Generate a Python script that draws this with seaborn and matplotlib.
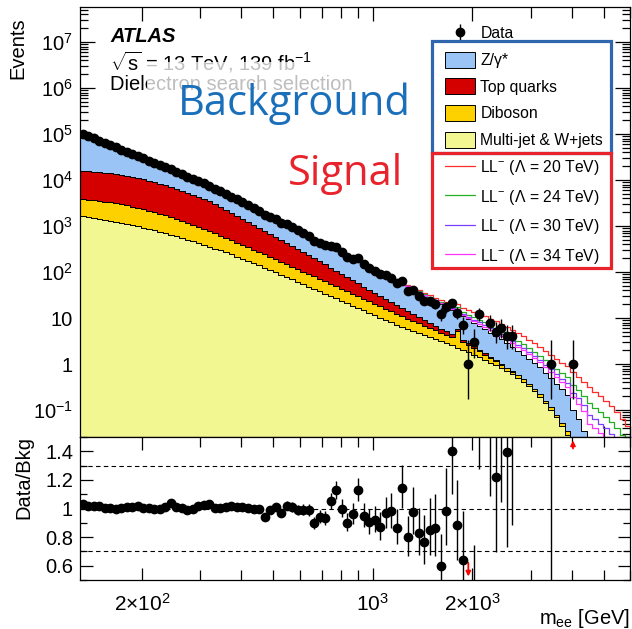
import numpy as np
import pandas as pd
import matplotlib
matplotlib.use("Agg")
import matplotlib.pyplot as plt
import seaborn as sns
from matplotlib.patches import Patch, Rectangle
from matplotlib.lines import Line2D
from matplotlib.ticker import FixedLocator, FuncFormatter, LogLocator, MultipleLocator, NullFormatter

# ---------------- data ----------------
mass_min = 130.0          # GeV, first bin edge
bins_per_decade = 60
n_bins = 100

zgamma = [84100, 73600, 64400, 56400, 49300, 43200, 37800, 33000, 28900, 25300,
          22100, 19400, 16900, 14800, 13000, 11400, 9930, 8690, 7600, 6650,
          5820, 5090, 4460, 3920, 3440, 3030, 2660, 2340, 2060, 1810,
          1590, 1400, 1230, 1080, 948, 834, 733, 644, 566, 498,
          438, 385, 338, 297, 261, 230, 202, 177, 156, 137,
          121, 106, 93.1, 81.8, 71.9, 63.2, 54.5, 46.9, 40.4, 34.8,
          29.9, 25.8, 22.2, 19.1, 16.4, 14.2, 12.2, 10.5, 8.93, 7.60,
          6.47, 5.51, 4.69, 3.99, 3.40, 2.89, 2.46, 2.02, 1.66, 1.37,
          1.12, 0.925, 0.760, 0.625, 0.485, 0.377, 0.292, 0.227, 0.176, 0.100,
          0.065, 0.035, 0, 0, 0, 0, 0, 0, 0, 0]

top_quarks = [11970, 11800, 11590, 11320, 11020, 10670, 10280, 9860, 9420, 8950,
              8470, 7980, 7480, 6980, 6490, 6000, 5520, 5060, 4610, 4190,
              3780, 3400, 3050, 2690, 2340, 2020, 1730, 1480, 1260, 1070,
              908, 771, 655, 555, 470, 397, 336, 283, 239, 201,
              169, 142, 119, 99.8, 83.4, 69.5, 57.8, 48.0, 39.7, 32.8,
              27.0, 22.2, 18.2, 14.9, 12.2, 9.93, 8.07, 6.55, 5.30, 4.28,
              3.44, 2.77, 2.21, 1.76, 1.40, 1.10, 0.859, 0.667, 0.512, 0.388,
              0.288, 0.208, 0.148, 0.102, 0.069, 0.046, 0.029, 0.019, 0.011, 0.007,
              0.004, 0, 0, 0, 0, 0, 0, 0, 0, 0,
              0, 0, 0, 0, 0, 0, 0, 0, 0, 0]

diboson = [2230, 2190, 2140, 2080, 2010, 1940, 1860, 1780, 1690, 1600,
           1510, 1410, 1310, 1210, 1110, 1010, 916, 828, 745, 667,
           596, 531, 472, 416, 366, 323, 284, 251, 221, 195,
           171, 151, 133, 117, 103, 91.0, 80.2, 70.6, 62.2, 54.8,
           48.3, 42.6, 37.5, 33.0, 29.0, 25.5, 22.4, 19.7, 17.3, 15.2,
           13.3, 11.7, 10.2, 8.93, 7.82, 6.84, 5.97, 5.21, 4.55, 3.96,
           3.45, 3.00, 2.61, 2.26, 1.96, 1.69, 1.47, 1.26, 3.00, 0.912,
           0.759, 0.617, 0.490, 0.380, 0.288, 0.219, 0.166, 0.126, 0.0955, 0.0724,
           0.0550, 0.0417, 0.0316, 0.0240, 0.0182, 0.0138, 0.0105, 0.0079, 0.0060, 0,
           0, 0, 0, 0, 0, 0, 0, 0, 0, 0]

multijet = [1660, 1590, 1520, 1460, 1390, 1320, 1250, 1180, 1120, 1050,
            989, 927, 867, 809, 753, 700, 649, 600, 553, 509,
            468, 429, 392, 357, 325, 295, 267, 242, 218, 196,
            176, 157, 141, 125, 112, 99.3, 88.3, 78.3, 69.5, 61.7,
            54.7, 48.5, 43.1, 38.2, 33.9, 30.1, 26.7, 23.7, 21.0, 18.6,
            16.5, 14.7, 13.0, 11.5, 10.2, 9.08, 8.05, 7.14, 6.44, 5.81,
            5.24, 4.72, 4.26, 3.84, 3.46, 3.12, 2.81, 2.54, 2.29, 2.04,
            1.81, 1.59, 1.40, 1.23, 1.07, 0.935, 0.811, 0.698, 0.594, 0.498,
            0.409, 0.329, 0.257, 0.195, 0.143, 0.101, 0.0692, 0.0457, 0.0288, 0,
            0, 0, 0, 0, 0, 0, 0, 0, 0, 0]

data_counts = [102760, 91050, 81080, 72400, 63850, 57420, 51190, 46050, 41540, 37340,
               33600, 29870, 26560, 23750, 21350, 19300, 17610, 15300, 13510, 11900,
               10640, 9601, 8583, 7590, 6503, 5696, 4990, 4382, 3797, 3304,
               2859, 2479, 2155, 1768, 1617, 1435, 1195, 1098, 946, 807,
               703, 612, 484, 440, 379, 373, 349, 268, 211, 196,
               201, 147, 122, 108, 89, 86, 75, 57, 65, 39,
               41, 30, 24, 23, 20, 12, 17, 21, 13, 7,
               1, 3, 12, 0, 8, 5, 6, 4, 4, 0,
               0, 0, 0, 0, 0, 1, 0, 0, 0, 1,
               0, 0, 0, 0, 0, 0, 0, 0, 0, 0]

# signal (excess over background) from bin 40 upward
signal_first_bin = 40
sig_ll20 = [0.4, 0.5, 0.6, 0.7, 0.8, 0.9, 1.0, 1.1, 1.25, 1.4,
            1.55, 1.7, 1.85, 2.0, 2.2, 2.4, 2.6, 2.8, 3.0, 3.2,
            3.45, 3.7, 3.95, 4.2, 4.4, 4.6, 4.8, 5.0, 5.2, 5.35,
            5.5, 5.5, 5.4, 5.2, 4.9, 4.5, 4.1, 3.6, 3.2, 2.8,
            2.45, 2.1, 1.8, 1.5, 1.3, 1.1, 0.95, 0.8, 0.68, 0.56,
            0.46, 0.38, 0.31, 0.25, 0.20, 0.16, 0.12, 0.09, 0.065, 0.045]
sig_ll24 = [0.18, 0.225, 0.27, 0.315, 0.36, 0.405, 0.45, 0.495, 0.56, 0.63,
            0.70, 0.765, 0.83, 0.90, 0.99, 1.08, 1.17, 1.26, 1.35, 1.44,
            1.55, 1.67, 1.78, 1.89, 1.98, 2.07, 2.16, 2.25, 2.34, 2.41,
            2.48, 2.48, 2.43, 2.34, 2.21, 2.03, 1.85, 1.62, 1.44, 1.26,
            1.10, 0.945, 0.81, 0.675, 0.585, 0.495, 0.43, 0.36, 0.306, 0.252,
            0.207, 0.171, 0.14, 0.113, 0.09, 0.072, 0.054, 0.041, 0.029, 0.020]
sig_ll30 = [0.10, 0.125, 0.15, 0.175, 0.20, 0.225, 0.25, 0.275, 0.31, 0.35,
            0.39, 0.425, 0.46, 0.50, 0.55, 0.60, 0.65, 0.70, 0.75, 0.80,
            0.86, 0.925, 0.99, 1.05, 1.10, 1.15, 1.20, 1.25, 1.30, 1.34,
            1.375, 1.375, 1.35, 1.30, 1.225, 1.125, 1.025, 0.90, 0.80, 0.70,
            0.61, 0.525, 0.45, 0.375, 0.325, 0.275, 0.24, 0.20, 0.17, 0.14,
            0.115, 0.095, 0.078, 0.063, 0.05, 0.04, 0.03, 0.022, 0.016, 0.011]
sig_ll34 = [0.064, 0.08, 0.096, 0.112, 0.128, 0.144, 0.16, 0.176, 0.20, 0.224,
            0.248, 0.272, 0.296, 0.32, 0.352, 0.384, 0.416, 0.448, 0.48, 0.512,
            0.552, 0.592, 0.632, 0.672, 0.704, 0.736, 0.768, 0.80, 0.832, 0.856,
            0.88, 0.88, 0.864, 0.832, 0.784, 0.72, 0.656, 0.576, 0.512, 0.448,
            0.392, 0.336, 0.288, 0.24, 0.208, 0.176, 0.152, 0.128, 0.109, 0.09,
            0.074, 0.061, 0.05, 0.04, 0.032, 0.026, 0.019, 0.014, 0.01, 0.007]

process_names = ["Z/γ*", "Top quarks", "Diboson", "Multi-jet & W+jets"]
process_colors = ["#9ac4f6", "#d40000", "#fdd000", "#f3f792"]
signal_labels = ["LL$^{-}$ (Λ = 20 TeV)", "LL$^{-}$ (Λ = 24 TeV)",
                 "LL$^{-}$ (Λ = 30 TeV)", "LL$^{-}$ (Λ = 34 TeV)"]
signal_colors = ["#ff2a2a", "#22b022", "#7b3fff", "#ff33ff"]
x_tick_labels = {200: r"$2{\times}10^{2}$", 1000: r"$10^{3}$", 2000: r"$2{\times}10^{3}$"}
y_decades = [-1, 0, 1, 2, 3, 4, 5, 6, 7]

# ---------------- style ----------------
sns.set_theme(style="ticks")
plt.rcParams["font.family"] = ["Liberation Sans", "DejaVu Sans"]
plt.rcParams.update({
    "mathtext.fontset": "custom",
    "mathtext.rm": "Liberation Sans",
    "mathtext.it": "Liberation Sans:italic",
    "mathtext.bf": "Liberation Sans:bold",
    "axes.edgecolor": "black", "xtick.color": "black", "ytick.color": "black",
    "text.color": "black", "axes.labelcolor": "black", "axes.linewidth": 0.9,
})

W, H = 632, 629
fig = plt.figure(figsize=(W / 100, H / 100), dpi=100)
fig.patch.set_facecolor("white")
fx = lambda px: px / W
fy = lambda py: 1 - py / H

ax = fig.add_axes([fx(80), fy(437), fx(630) - fx(80), fy(7) - fy(437)])
axr = fig.add_axes([fx(80), fy(580), fx(630) - fx(80), fy(437) - fy(580)], sharex=ax)

edges = mass_min * 10 ** (np.arange(n_bins + 1) / bins_per_decade)
centers = np.sqrt(edges[:-1] * edges[1:])
log_edges = [float(v) for v in np.log10(edges)]   # seaborn log_scale bins are in log10 units

# ---------------- stacked background ----------------
df = pd.DataFrame({
    "mass": np.tile(centers, 4),
    "events": np.concatenate([zgamma, top_quarks, diboson, multijet]),
    "process": np.repeat(process_names, n_bins),
})
sns.histplot(data=df, x="mass", weights="events", hue="process", hue_order=process_names,
             palette=dict(zip(process_names, process_colors)), bins=log_edges,
             multiple="stack", element="step", fill=True, alpha=1,
             edgecolor="black", linewidth=0.7, log_scale=(True, True),
             legend=False, ax=ax)
# zero baselines cannot be shown on a log axis: lift them just below the visible range
floor = 1e-3
for coll in ax.collections:
    verts = []
    for p in coll.get_paths():
        v = np.array(p.vertices, dtype=float)
        v[:, 1] = np.maximum(v[:, 1], floor)
        verts.append(v)
    coll.set_verts(verts)

bkg = np.array(zgamma) + np.array(top_quarks) + np.array(diboson) + np.array(multijet)

# ---------------- signals ----------------
signals = [sig_ll20, sig_ll24, sig_ll30, sig_ll34]
for lab, col, s in zip(signal_labels, signal_colors, signals):
    excess = np.concatenate([np.zeros(signal_first_bin), s])
    sns.histplot(x=centers, weights=bkg + excess, bins=log_edges, element="step",
                 fill=False, color=col, linewidth=0.9, log_scale=(True, True), ax=ax)

# ---------------- data ----------------
N = np.array(data_counts, dtype=float)
has = N > 0
Ns = np.where(has, N, 1.0)
low_b = np.where(has, Ns * (1 - 1 / (9 * Ns) - 1 / (3 * np.sqrt(Ns))) ** 3, 0)
up_b = (N + 1) * (1 - 1 / (9 * (N + 1)) + 1 / (3 * np.sqrt(N + 1))) ** 3
eb = ax.errorbar(centers[has], N[has], yerr=[N[has] - low_b[has], up_b[has] - N[has]],
                 fmt="o", color="black", ms=6, elinewidth=1.0, capsize=0, zorder=6)

valid = has & (bkg > 0)
bsafe = np.where(bkg > 0, bkg, 1)
ratio = np.where(valid, N / bsafe, np.nan)
r_lo = low_b / bsafe
r_hi = up_b / bsafe
axr.errorbar(centers[valid], ratio[valid],
             yerr=[ratio[valid] - r_lo[valid], r_hi[valid] - ratio[valid]],
             fmt="o", color="black", ms=6, elinewidth=1.0, capsize=0, zorder=6)
for i in np.where(valid)[0]:
    if r_hi[i] < 0.5:
        axr.annotate("", xy=(centers[i], 0.505), xytext=(centers[i], 0.64),
                     arrowprops=dict(arrowstyle="-|>", color="red", lw=1.3, mutation_scale=7))
    elif r_lo[i] > 1.5:
        axr.annotate("", xy=(centers[i], 1.495), xytext=(centers[i], 1.40),
                     arrowprops=dict(arrowstyle="-|>", color="red", lw=1.3, mutation_scale=7))
for yl in (0.7, 1.0, 1.3):
    axr.axhline(yl, color="black", lw=0.8, ls=(0, (4, 3)), zorder=1)

# ---------------- axes ----------------
ax.set_xlim(130, 6000)
ax.set_ylim(0.026, 5.8e7)
axr.set_ylim(0.5, 1.5)

ax.yaxis.set_major_locator(FixedLocator([10.0 ** e for e in y_decades]))
ax.yaxis.set_minor_locator(FixedLocator([m * 10.0 ** e for e in [-2] + y_decades
                                         for m in range(2, 10)
                                         if 0.026 <= m * 10.0 ** e <= 5.8e7]))
ax.yaxis.set_minor_formatter(NullFormatter())
def ylog_fmt(v, p):
    e = int(round(np.log10(v)))
    if e == 0:
        return "1"
    if e == 1:
        return "10"
    return r"$10^{%d}$" % e
ax.yaxis.set_major_formatter(FuncFormatter(ylog_fmt))

ax.xaxis.set_major_locator(FixedLocator(list(x_tick_labels.keys())))
ax.xaxis.set_minor_locator(FixedLocator([300, 400, 500, 600, 700, 800, 900, 3000, 4000, 5000, 6000]))
ax.xaxis.set_major_formatter(FuncFormatter(lambda v, p: x_tick_labels.get(int(round(v)), "")))
ax.xaxis.set_minor_formatter(NullFormatter())

axr.yaxis.set_major_locator(FixedLocator([0.6, 0.8, 1.0, 1.2, 1.4]))
axr.yaxis.set_minor_locator(FixedLocator([0.5, 0.7, 0.9, 1.1, 1.3, 1.5]))
axr.yaxis.set_major_formatter(FuncFormatter(lambda v, p: "%g" % round(v, 2)))
axr.yaxis.set_minor_formatter(NullFormatter())

for a in (ax, axr):
    a.tick_params(which="both", direction="in", top=True, right=True, labelsize=14.5, width=0.9)
ax.tick_params(axis="y", which="major", length=11, pad=5)
ax.tick_params(axis="y", which="minor", length=6)
ax.tick_params(axis="x", which="major", length=10, labelbottom=False)
ax.tick_params(axis="x", which="minor", length=8)
axr.tick_params(axis="y", which="major", length=9, pad=5)
axr.tick_params(axis="y", which="minor", length=5)
axr.tick_params(axis="x", which="major", length=9, pad=9, labelsize=15)
axr.tick_params(axis="x", which="minor", length=7)

ax.set_xlabel("")
ax.set_ylabel("Events", fontsize=14.5, loc="top")
ax.yaxis.set_label_coords(-0.096, 0.977)
axr.set_ylabel("Data/Bkg", fontsize=14.5, loc="top")
axr.yaxis.set_label_coords(-0.085, 1.01)
axr.set_xlabel(r"m$_{\mathrm{ee}}$ [GeV]", fontsize=14.5, loc="right")
axr.xaxis.set_label_coords(1.0, -0.19)

# ---------------- legend ----------------
handles = [eb] + [Patch(facecolor=c, edgecolor="black", linewidth=0.7) for c in process_colors] \
          + [Line2D([], [], color=c, lw=0.9) for c in signal_colors]
labels = ["Data"] + process_names + signal_labels
ax.legend(handles, labels, loc="upper left", bbox_to_anchor=(fx(445), fy(25)),
          bbox_transform=fig.transFigure, frameon=False, fontsize=11.3,
          handlelength=1.9, handleheight=1.2, handletextpad=0.35, labelspacing=0.66,
          borderpad=0, borderaxespad=0)
fig.add_artist(Rectangle((fx(432), fy(153)), fx(611) - fx(432), fy(41) - fy(153),
                         transform=fig.transFigure, fill=False, edgecolor="#3066ad", lw=2.3, zorder=10))
fig.add_artist(Rectangle((fx(432), fy(268)), fx(611) - fx(432), fy(153) - fy(268),
                         transform=fig.transFigure, fill=False, edgecolor="#e8232b", lw=2.3, zorder=10))

# ---------------- texts ----------------
fig.text(fx(110), fy(42), "ATLAS", fontsize=14.5, fontweight="bold", fontstyle="italic",
         ha="left", va="baseline", zorder=3)
fig.text(fx(110), fy(62), r"$\sqrt{\mathrm{s}}$ = 13 TeV, 139 fb$^{-1}$", fontsize=14.5,
         ha="left", va="center", zorder=3)
fig.text(fx(110), fy(85), "Dielectron search selection", fontsize=14.5, ha="left", va="center", zorder=3)
fig.add_artist(Rectangle((fx(147), fy(128)), fx(425) - fx(147), fy(62) - fy(128),
                         transform=fig.transFigure, facecolor="white", edgecolor="none",
                         alpha=0.75, zorder=4))
fig.text(fx(178), fy(115), "Background", fontsize=30, color="#1a6fba", family="Open Sans",
         ha="left", va="baseline", zorder=5)
fig.text(fx(288), fy(185), "Signal", fontsize=30, color="#e8232b", family="Open Sans",
         ha="left", va="baseline", zorder=5)

fig.savefig("out.png", dpi=100, facecolor="white")
